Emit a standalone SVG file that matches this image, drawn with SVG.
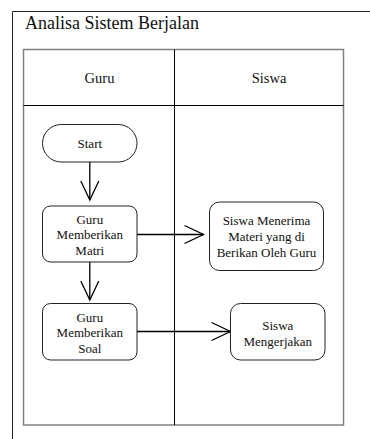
<svg xmlns="http://www.w3.org/2000/svg" width="370" height="439" viewBox="0 0 370 439">
<defs>
<style>
.t{font-family:"Liberation Serif","Times New Roman",serif;fill:#111;text-anchor:middle}
.n{font-size:13px}
.h{font-size:14.5px}
.box{fill:#fff;stroke:#222;stroke-width:1}
.c{fill:none;stroke:#000;stroke-width:1.3}
</style>
<marker id="ah" markerUnits="userSpaceOnUse" markerWidth="24" markerHeight="24" viewBox="-21 -11 24 22" refX="0" refY="0" orient="auto">
<path d="M-19,-9 L0,0 L-19,9" fill="none" stroke="#000" stroke-width="1.3"/>
</marker>
</defs>
<rect width="370" height="439" fill="#fff"/>
<g id="frame">
<path d="M12.5,439 L12.5,11.5 L370,11.5" fill="none" stroke="#222" stroke-width="1"/>
<text class="t" x="25" y="29" font-size="18" style="text-anchor:start">Analisa Sistem Berjalan</text>
</g>
<g id="pool">
<rect x="23.5" y="49.5" width="320" height="375.5" fill="none" stroke="#808080" stroke-width="1.5"/>
<line x1="23.5" y1="105.5" x2="343.5" y2="105.5" stroke="#000" stroke-width="1"/>
<line x1="174.5" y1="49.5" x2="174.5" y2="425" stroke="#000" stroke-width="1"/>
<text class="t h" x="99.5" y="83">Guru</text>
<text class="t h" x="269" y="83">Siswa</text>
</g>
<g id="connectors">
<line class="c" x1="89.8" y1="162" x2="89.8" y2="200" marker-end="url(#ah)"/>
<line class="c" x1="137" y1="234.5" x2="203.5" y2="234.5" marker-end="url(#ah)"/>
<line class="c" x1="89.8" y1="262" x2="89.8" y2="300" marker-end="url(#ah)"/>
<line class="c" x1="137" y1="331.5" x2="230.5" y2="331.5" marker-end="url(#ah)"/>
</g>
<g id="start">
<rect class="box" x="42.5" y="124.5" width="94.5" height="37.5" rx="18.75"/>
<text class="t n" x="89.8" y="147.5">Start</text>
</g>
<g id="guru-matri">
<rect class="box" x="42.5" y="206" width="94.5" height="56" rx="8"/>
<text class="t n" x="89.8" y="223.5">Guru</text>
<text class="t n" x="89.8" y="239">Memberikan</text>
<text class="t n" x="89.8" y="254.5">Matri</text>
</g>
<g id="siswa-menerima">
<rect class="box" x="209.5" y="202" width="114" height="68.5" rx="10"/>
<text class="t n" x="266.5" y="225">Siswa Menerima</text>
<text class="t n" x="266.5" y="241">Materi yang di</text>
<text class="t n" x="266.5" y="257">Berikan Oleh Guru</text>
</g>
<g id="guru-soal">
<rect class="box" x="42.5" y="303.5" width="94.5" height="56.5" rx="8"/>
<text class="t n" x="89.8" y="321.5">Guru</text>
<text class="t n" x="89.8" y="337">Memberikan</text>
<text class="t n" x="89.8" y="352.5">Soal</text>
</g>
<g id="siswa-mengerjakan">
<rect class="box" x="230.5" y="303.5" width="94.5" height="56.5" rx="10"/>
<text class="t n" x="277.8" y="329.5">Siswa</text>
<text class="t n" x="277.8" y="346">Mengerjakan</text>
</g>
</svg>
